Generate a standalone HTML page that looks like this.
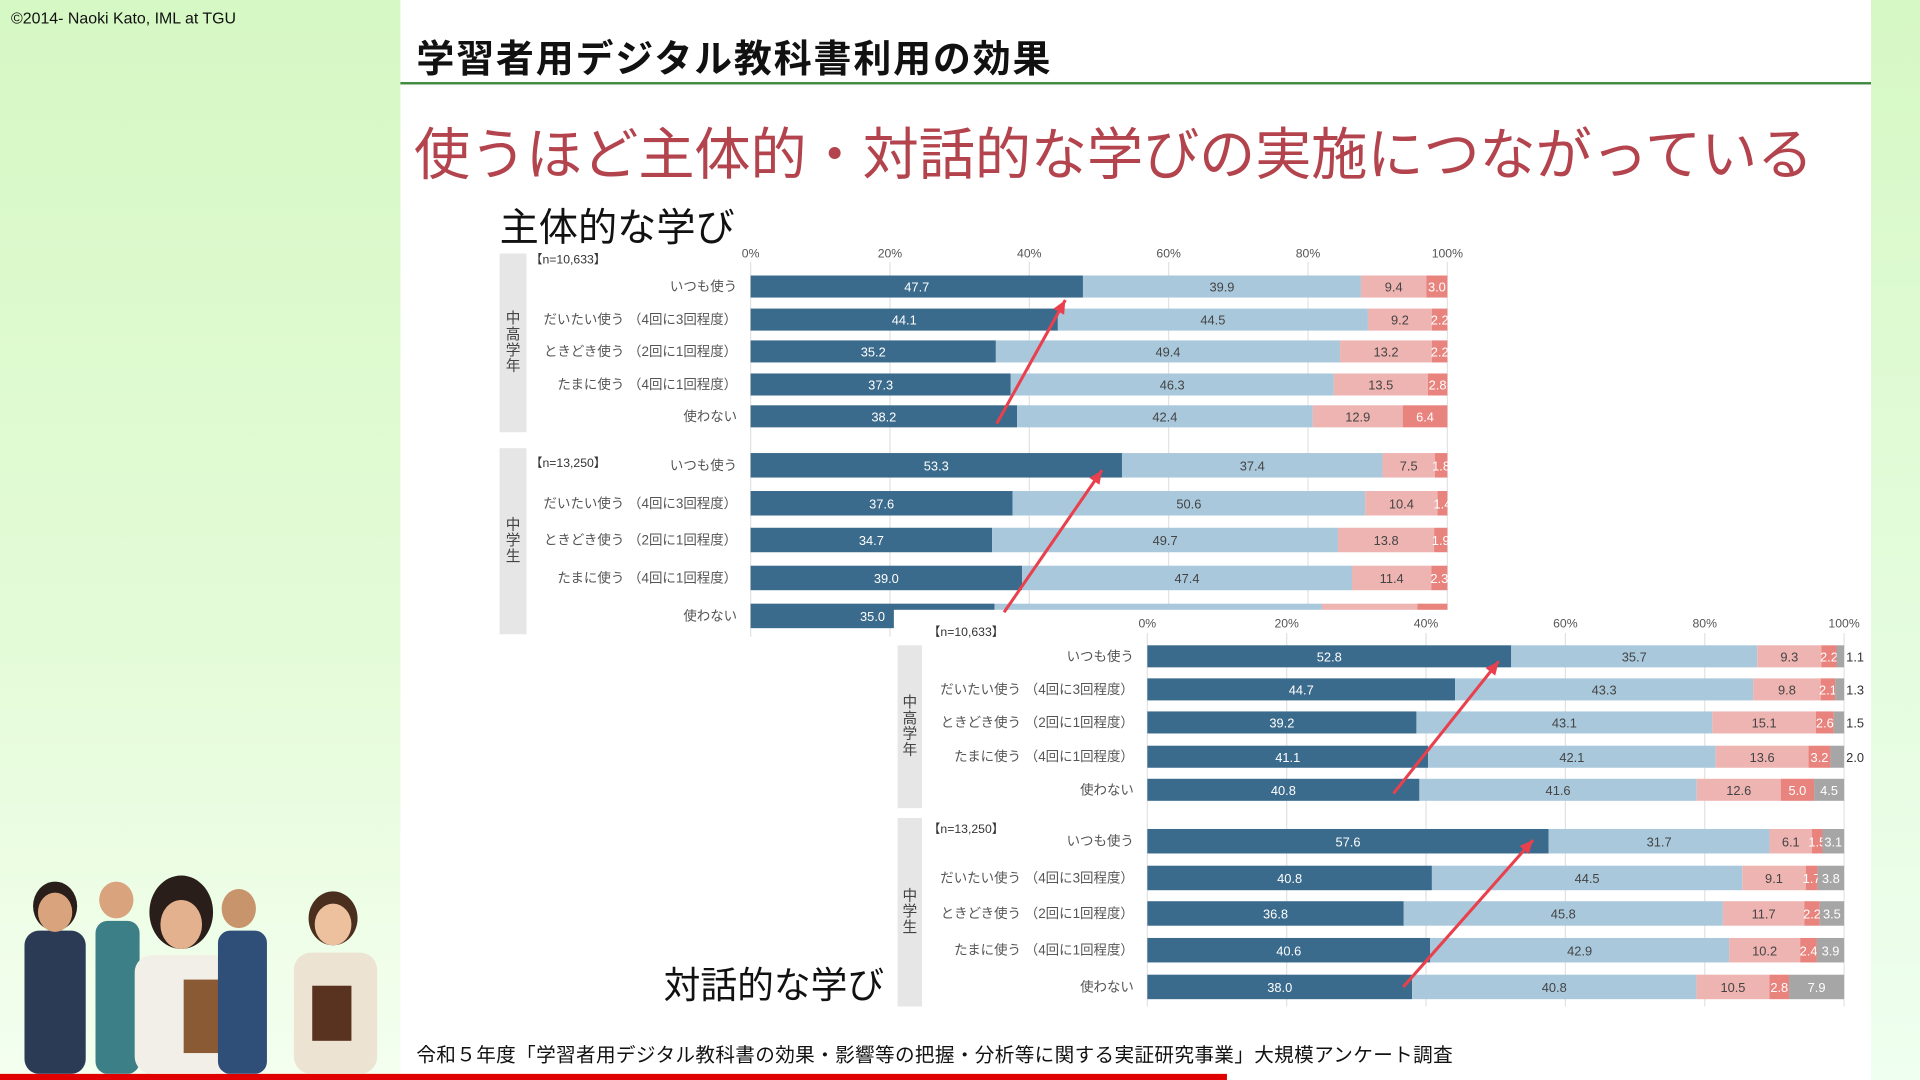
<!DOCTYPE html>
<html><head><meta charset="utf-8">
<style>
html,body{margin:0;padding:0;width:1920px;height:1080px;overflow:hidden;background:#fff}
#wrap{position:absolute;left:0;top:0;width:1568px;height:882px;transform:scale(1.22449);transform-origin:0 0;font-family:"Liberation Sans","Noto Sans CJK JP",sans-serif}
.abs{position:absolute;white-space:nowrap}
</style></head><body>
<div id="wrap">
<div class="abs" style="left:0;top:0;width:327px;height:882px;background:linear-gradient(180deg,#d6f8c4 0%,#e4fbd8 60%,#f4fff0 100%)"></div>
<div class="abs" style="left:1528px;top:0;width:40px;height:882px;background:linear-gradient(180deg,#d6f8c4,#effff0)"></div>
<div class="abs" style="left:9px;top:7px;font-size:13px;color:#111">©2014- Naoki Kato, IML at TGU</div>
<div class="abs" style="left:340px;top:23px;font-size:31px;font-weight:bold;color:#111;letter-spacing:1.5px">学習者用デジタル教科書利用の効果</div>
<div class="abs" style="left:327px;top:67px;width:1201px;height:2px;background:#3f8a3f"></div>
<div class="abs" style="left:338px;top:90px;font-size:46px;color:#b3434c;letter-spacing:-0.2px">使うほど主体的・対話的な学びの実施につながっている</div>
<div class="abs" style="left:408px;top:161px;font-size:32px;color:#111">主体的な学び</div>
<svg id="svg" class="abs" style="left:0;top:0" width="1568" height="882"></svg>
<div class="abs" style="left:542px;top:780px;font-size:30px;color:#111">対話的な学び</div>
<div class="abs" style="left:340px;top:848px;font-size:16px;color:#111;letter-spacing:0.3px">令和５年度「学習者用デジタル教科書の効果・影響等の把握・分析等に関する実証研究事業」大規模アンケート調査</div>
<div class="abs" style="left:0;top:877px;width:1002px;height:5px;background:#e00000"></div>
<svg class="abs" style="left:0;top:700px" width="320" height="177">
<g fill="#2b3a55"><ellipse cx="45" cy="40" rx="18" ry="20" fill="#2a1e1a"/><rect x="20" y="60" width="50" height="117" rx="12"/></g>
<ellipse cx="45" cy="45" rx="14" ry="16" fill="#d9a47d"/>
<ellipse cx="95" cy="35" rx="14" ry="15" fill="#d9a47d"/><rect x="78" y="52" width="36" height="125" rx="10" fill="#3d7f87"/>
<ellipse cx="148" cy="45" rx="26" ry="30" fill="#2a1e1a"/><ellipse cx="148" cy="55" rx="17" ry="20" fill="#e4b18e"/><rect x="110" y="80" width="78" height="97" rx="14" fill="#f2efe8"/><rect x="150" y="100" width="40" height="60" fill="#8a5a34"/>
<ellipse cx="195" cy="42" rx="14" ry="16" fill="#c8946c"/><rect x="178" y="60" width="40" height="117" rx="10" fill="#2f4f78"/>
<ellipse cx="272" cy="50" rx="20" ry="22" fill="#4a2e1e"/><ellipse cx="272" cy="55" rx="15" ry="17" fill="#edc19e"/><rect x="240" y="78" width="68" height="99" rx="14" fill="#ece3d3"/><rect x="255" y="105" width="32" height="45" fill="#5a3220"/>
</svg>
</div>
<script>
// Chart 1: 主体的な学び
const cats = ["いつも使う","だいたい使う （4回に3回程度）","ときどき使う （2回に1回程度）","たまに使う （4回に1回程度）","使わない"];
const ticks = ["0%","20%","40%","60%","80%","100%"];
const c1hs = [[47.7,39.9,9.4,3.0],[44.1,44.5,9.2,2.2],[35.2,49.4,13.2,2.2],[37.3,46.3,13.5,2.8],[38.2,42.4,12.9,6.4]];
const c1jh = [[53.3,37.4,7.5,1.8],[37.6,50.6,10.4,1.4],[34.7,49.7,13.8,1.9],[39.0,47.4,11.4,2.3],[35.0,47.0,13.7,4.3]];
// Chart 2: 対話的な学び
const c2hs = [[52.8,35.7,9.3,2.2,1.1],[44.7,43.3,9.8,2.1,1.3],[39.2,43.1,15.1,2.6,1.5],[41.1,42.1,13.6,3.2,2.0],[40.8,41.6,12.6,5.0,4.5]];
const c2jh = [[57.6,31.7,6.1,1.5,3.1],[40.8,44.5,9.1,1.7,3.8],[36.8,45.8,11.7,2.2,3.5],[40.6,42.9,10.2,2.4,3.9],[38.0,40.8,10.5,2.8,7.9]];
const nLabels = ["【n=10,633】","【n=13,250】"];
const groupLabels = ["中高学年","中学生"];

const NS="http://www.w3.org/2000/svg";
const svg=document.getElementById('svg');
const colors=["#3a6a8c","#a9c8dc","#eeb4b2","#e8837d","#a6a6a6"];
const tcol=["#fff","#444","#444","#fff","#fff"];
function mk(tag,attrs,parent){const e=document.createElementNS(NS,tag);for(const k in attrs)e.setAttribute(k,attrs[k]);(parent||svg).appendChild(e);return e;}
function txt(x,y,s,size,fill,anchor,parent){const t=mk('text',{x:x,y:y,'font-size':size,fill:fill,'text-anchor':anchor||'start','dominant-baseline':'central','font-family':'Liberation Sans, Noto Sans CJK JP, sans-serif'},parent);t.textContent=s;return t;}

function chart(o){
  const g=mk('g',{});
  
  
  if(o.bg) mk('rect',{x:o.bg[0],y:o.bg[1],width:o.bg[2],height:o.bg[3],fill:'#fff'},g);
  const xs=v=>o.x0+v/100*o.w;
  ticks.forEach((t,i)=>{
    const x=xs(i*20);
    mk('line',{x1:x,x2:x,y1:o.gridTop,y2:o.gridBot,stroke:'#e2e2e2','stroke-width':1},g);
    const tl=txt(x,o.tickY,t,10,'#555','middle',g);
    
    
  });
  o.groups.forEach((gr,gi)=>{
    const s=mk('rect',{x:o.stripX,y:gr.strip[0],width:o.stripW,height:gr.strip[1],fill:'#e6e6e6'},g);
    
    
    const lbl=groupLabels[gi].split('');
    lbl.forEach((ch,ci)=>{const t=txt(o.stripX+o.stripW/2,gr.strip[0]+gr.strip[1]/2-(lbl.length-1)*6.5+ci*13,ch,12,'#444','middle',g);});
    const nl=txt(o.nX,gr.nY,nLabels[gi],10,'#333','start',g);
    
    
    gr.data.forEach((row,ri)=>{
      const cy=gr.ys[ri];
      const cl=txt(o.labelR,cy,cats[ri],11,'#555','end',g);
      
      
      const total=row.reduce((a,b)=>a+b,0);
      let acc=0;
      row.forEach((v,si)=>{
        const x=xs(acc/total*100),w=v/total*o.w;
        const r=mk('rect',{x:x,y:cy-gr.h/2,width:w,height:gr.h,fill:colors[si]},g);
        
        
        let lx=x+w/2,fc=tcol[si];
        if(si===4 && v<3 && gr.outside){lx=xs(100)+9;fc='#333';}
        const vl=txt(lx,cy+0.5,v.toFixed(1),10.5,fc,'middle',g);
        
        
        acc+=v;
      });
    });
  });
  return g;
}
chart({name:'chart-shutaiteki',x0:613,w:569,tickY:207,gridTop:214,gridBot:520,stripX:408,stripW:22,nX:433,labelR:602,
  groups:[{data:c1hs,ys:[234,261,287,314,340],h:18,strip:[207,146],nY:212},
          {data:c1jh,ys:[380,411,441,472,503],h:20,strip:[366,152],nY:378}]});
chart({name:'chart-taiwateki',bg:[730,498,790,330],x0:937,w:569,tickY:509,gridTop:517,gridBot:822,stripX:733,stripW:20,nX:758,labelR:926,
  groups:[{data:c2hs,ys:[536,563,590,618,645],h:18,strip:[527,133],nY:516,outside:true},
          {data:c2jh,ys:[687,717,746,776,806],h:20,strip:[668,154],nY:677}]});
// arrows
const arrows=[[814,346,870,245],[820,500,900,384],[1138,648,1224,540],[1146,806,1252,686]];
arrows.forEach(a=>{
  const [x1,y1,x2,y2]=a;
  const ln=mk('line',{x1:x1,y1:y1,x2:x2,y2:y2,stroke:'#e8414d','stroke-width':2.5});
  
  
  const ang=Math.atan2(y2-y1,x2-x1),L=11,W=5;
  const bx=x2-L*Math.cos(ang),by=y2-L*Math.sin(ang);
  const px=-Math.sin(ang)*W,py=Math.cos(ang)*W;
  const hd=mk('polygon',{points:`${x2},${y2} ${bx+px},${by+py} ${bx-px},${by-py}`,fill:'#e8414d'});
  
  
});
</script>
</body></html>
